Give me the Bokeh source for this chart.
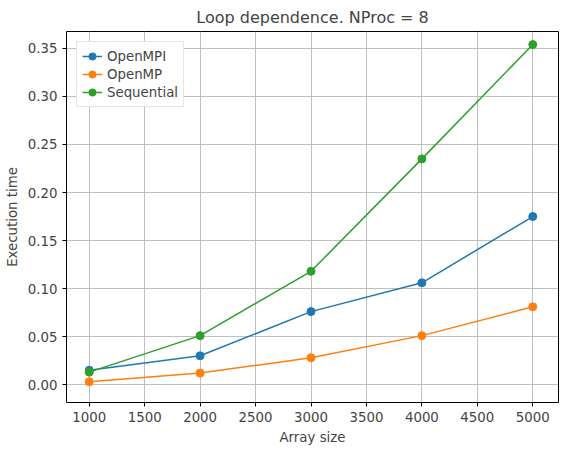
from bokeh.plotting import figure
from bokeh.models import Range1d, SingleIntervalTicker, NumeralTickFormatter
from bokeh.embed import file_html
from bokeh.resources import INLINE

sizes = [1000, 2000, 3000, 4000, 5000]
openmpi = [0.015, 0.030, 0.076, 0.106, 0.175]
openmp = [0.003, 0.012, 0.028, 0.051, 0.081]
sequential = [0.013, 0.051, 0.118, 0.235, 0.354]

p = figure(width=560, height=447, output_backend="svg", toolbar_location=None,
           title="Loop dependence. NProc = 8",
           x_axis_label="Array size", y_axis_label="Execution time",
           x_range=Range1d(795, 5232), y_range=Range1d(-0.0186, 0.3676),
           min_border_left=66, min_border_right=2, min_border_top=24, min_border_bottom=41)
p.title.align = "center"
p.title.text_font = "DejaVu Sans"
p.title.text_font_size = "12pt"
p.title.text_font_style = "normal"
p.xaxis.ticker = SingleIntervalTicker(interval=500)
p.yaxis.ticker = SingleIntervalTicker(interval=0.05)
p.yaxis.formatter = NumeralTickFormatter(format="0.00")
for ax in (p.xaxis, p.yaxis):
    ax.axis_label_text_font = "DejaVu Sans"
    ax.axis_label_text_font_size = "10pt"
    ax.axis_label_text_font_style = "normal"
    ax.major_label_text_font = "DejaVu Sans"
    ax.major_label_text_font_size = "10pt"
    ax.minor_tick_line_color = None
    ax.axis_line_color = None
    ax.major_tick_in = 0
    ax.major_tick_out = 4
p.grid.grid_line_color = "#b0b0b0"
p.grid.grid_line_width = 0.8
p.outline_line_color = "black"
p.outline_line_alpha = 1

for ys, name, c in [(openmpi, "OpenMPI", "#1f77b4"), (openmp, "OpenMP", "#ff7f0e"),
                    (sequential, "Sequential", "#2ca02c")]:
    p.line(sizes, ys, line_color=c, line_width=1.5, legend_label=name)
    p.scatter(sizes, ys, size=8, color=c, legend_label=name)

p.legend.location = "top_left"
p.legend.label_text_font = "DejaVu Sans"
p.legend.label_text_font_size = "10pt"
p.legend.border_line_color = "#cccccc"
p.legend.spacing = 0
p.legend.padding = 5
p.legend.glyph_height = 18

open("out.html", "w").write(file_html(p, INLINE))
